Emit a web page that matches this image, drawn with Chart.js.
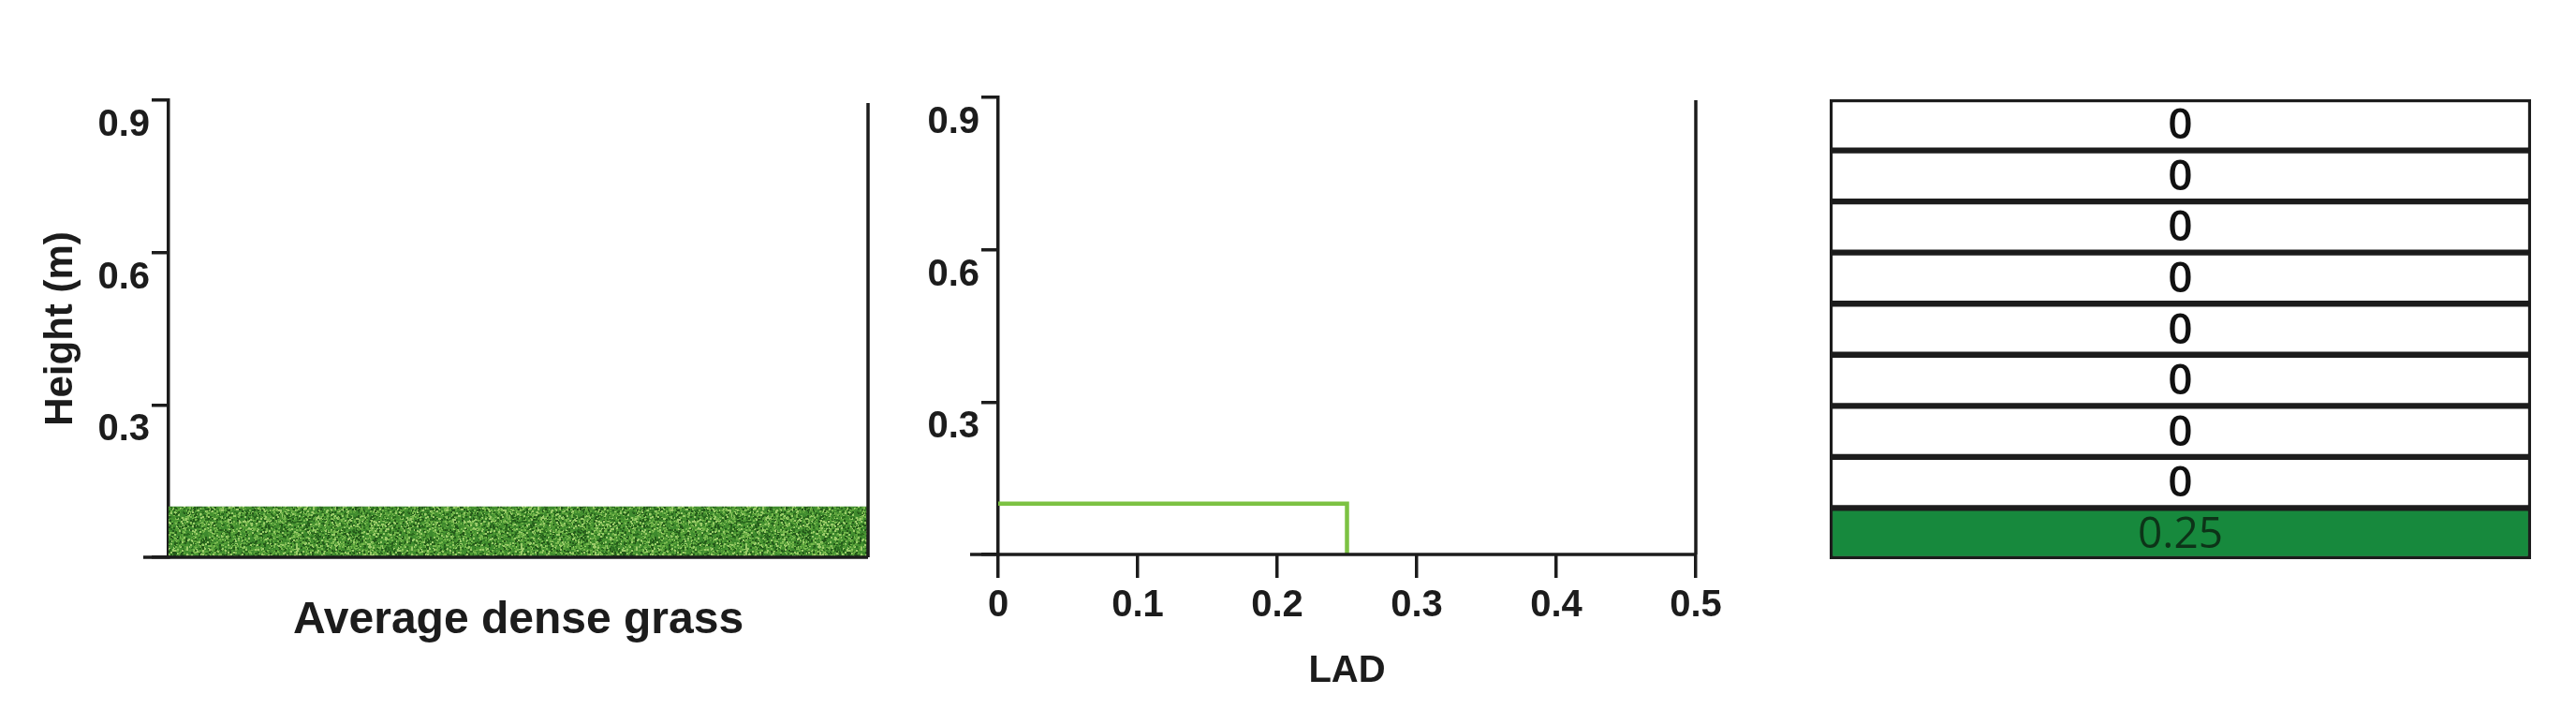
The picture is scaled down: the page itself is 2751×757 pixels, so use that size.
<!DOCTYPE html>
<html>
<head>
<meta charset="utf-8">
<script src="https://cdn.jsdelivr.net/npm/chart.js@4.4.0/dist/chart.umd.min.js"></script>
<style>
  html, body { margin: 0; padding: 0; background: #fff; }
  body { width: 2751px; height: 757px; position: relative; overflow: hidden; }
  .panel { position: absolute; top: 0; height: 757px; }
</style>
</head>
<body>
<div class="panel" style="left:0;width:945px"><canvas id="chart-grass"></canvas></div>
<div class="panel" style="left:950px;width:900px"><canvas id="chart-lad"></canvas></div>
<div class="panel" style="left:1900px;width:851px"><canvas id="chart-table"></canvas></div>
<script>
/* ── Data ─────────────────────────────────────────────────── */
const Y_TICKS      = [0.3, 0.6, 0.9];
const X_TICKS      = [0, 0.1, 0.2, 0.3, 0.4, 0.5];
const GRASS_HEIGHT = 0.1;
const LAD_X        = [0, 0.25, 0.25];
const LAD_Y        = [GRASS_HEIGHT, GRASS_HEIGHT, 0];
const LAYERS       = ['0.85', '0.75', '0.65', '0.55', '0.45', '0.35', '0.25', '0.15', '0.05'];
const LAYER_LAD    = [0, 0, 0, 0, 0, 0, 0, 0, 0.25];

/* ── Styling ──────────────────────────────────────────────── */
const INK  = '#1c1c1c';
const FONT = "'Liberation Sans Narrow', 'Liberation Sans', sans-serif";
Chart.defaults.font.family = FONT;
Chart.defaults.color = INK;
Chart.defaults.animation = false;

/* grass texture (decorative only) */
function grassPattern() {
  const c = document.createElement('canvas');
  c.width = 240; c.height = 60;
  const g = c.getContext('2d');
  g.fillStyle = '#3f8a2e';
  g.fillRect(0, 0, c.width, c.height);
  let s = 12345;
  const rnd = () => (s = (s * 1103515245 + 12345) % 2147483648) / 2147483648;
  const shades = ['#2c6b1f', '#5aa23a', '#78b84e', '#24591a', '#9ccc6a', '#4b9532'];
  for (let i = 0; i < 5000; i++) {
    g.fillStyle = shades[Math.floor(rnd() * shades.length)];
    g.fillRect(Math.floor(rnd() * c.width), Math.floor(rnd() * c.height), 2, 2);
  }
  return g.createPattern(c, 'repeat');
}

/* bottom axis extension + right frame line */
const framePlugin = {
  id: 'frame',
  afterDraw(chart, args, opts) {
    if (!opts.enabled) return;
    const { ctx, chartArea: a } = chart;
    ctx.save();
    ctx.strokeStyle = INK;
    ctx.lineWidth = 3.5;
    ctx.beginPath();
    ctx.moveTo(a.left - opts.ext, a.bottom);
    ctx.lineTo(a.right, a.bottom);
    ctx.moveTo(a.right, a.top + 3);
    ctx.lineTo(a.right, a.bottom);
    ctx.stroke();
    ctx.restore();
  },
};

/* cell value labels for the table */
const cellLabels = {
  id: 'cellLabels',
  afterDatasetsDraw(chart, args, opts) {
    if (!opts.enabled) return;
    const { ctx } = chart;
    const meta = chart.getDatasetMeta(0);
    ctx.save();
    ctx.font = "600 46px 'Open Sans', sans-serif";
    ctx.textAlign = 'center';
    ctx.textBaseline = 'middle';
    meta.data.forEach((bar, i) => {
      const v = LAYER_LAD[i];
      ctx.fillStyle = v > 0 ? '#0d3318' : '#111';
      ctx.font = v > 0 ? "46px 'Open Sans', sans-serif" : "600 46px 'Open Sans', sans-serif";
      ctx.fillText(String(v), chart.chartArea.left + (chart.chartArea.right - chart.chartArea.left) / 2, bar.y + 2);
    });
    ctx.restore();
  },
};
Chart.register(framePlugin, cellLabels);

function yAxis(width) {
  return {
    type: 'linear', min: 0, max: 0.9,
    afterFit: s => { s.width = width; },
    afterBuildTicks: s => { s.ticks = [0, ...Y_TICKS].map(v => ({ value: v })); },
    border: { display: true, color: INK, width: 3.5 },
    grid: { drawOnChartArea: false, drawTicks: true, tickLength: 18, color: INK, lineWidth: 3.5 },
    ticks: {
      font: { size: 40, weight: 'bold' }, color: INK, padding: 2, labelOffset: 27,
      callback: v => (v === 0 ? '' : String(v)),
    },
  };
}

/* ── Panel 1: grass ───────────────────────────────────────── */
new Chart(document.getElementById('chart-grass'), {
  type: 'line',
  data: {
    datasets: [{
      data: [{ x: 0, y: GRASS_HEIGHT }, { x: 1, y: GRASS_HEIGHT }],
      fill: 'origin', backgroundColor: grassPattern(),
      borderWidth: 0, pointRadius: 0,
    }],
  },
  options: {
    responsive: true, maintainAspectRatio: false,
    layout: { padding: { top: 107, right: 18, left: 0, bottom: 0 } },
    plugins: { legend: { display: false }, tooltip: { enabled: false }, frame: { enabled: true, ext: 27 } },
    scales: {
      x: {
        type: 'linear', min: 0, max: 1,
        afterFit: s => { s.height = 162; },
        border: { display: false }, grid: { display: false },
        ticks: { display: false },
        title: { display: true, text: 'Average dense grass', font: { size: 48, weight: 'bold' }, padding: { top: 0, bottom: 65 } },
      },
      y: {
        ...yAxis(180),
        title: { display: true, text: 'Height (m)', font: { size: 42, weight: 'bold' }, padding: { top: 40, bottom: 0 } },
      },
    },
  },
});

/* ── Panel 2: LAD profile ─────────────────────────────────── */
new Chart(document.getElementById('chart-lad'), {
  type: 'line',
  data: {
    datasets: [{
      data: LAD_X.map((x, i) => ({ x, y: LAD_Y[i] })),
      borderColor: '#7cc243', borderWidth: 4.5, pointRadius: 0, fill: false, tension: 0,
    }],
  },
  options: {
    responsive: true, maintainAspectRatio: false,
    layout: { padding: { top: 104, right: 39, left: 0, bottom: 0 } },
    plugins: { legend: { display: false }, tooltip: { enabled: false }, frame: { enabled: true, ext: 30 } },
    scales: {
      x: {
        type: 'linear', min: 0, max: 0.5,
        afterFit: s => { s.height = 165; },
        afterBuildTicks: s => { s.ticks = X_TICKS.map(v => ({ value: v })); },
        border: { display: false },
        grid: { drawOnChartArea: false, drawTicks: true, tickLength: 25, color: INK, lineWidth: 3.5 },
        ticks: { font: { size: 40, weight: 'bold' }, color: INK, padding: 6, maxRotation: 0, callback: v => String(v) },
        title: { display: true, text: 'LAD', font: { size: 40, weight: 'bold' }, padding: { top: 0, bottom: 16 } },
      },
      y: yAxis(116),
    },
  },
});

/* ── Panel 3: LAD table ───────────────────────────────────── */
new Chart(document.getElementById('chart-table'), {
  type: 'bar',
  data: {
    labels: LAYERS,
    datasets: [{
      data: LAYER_LAD.map(() => [0, 1]),
      backgroundColor: LAYER_LAD.map(v => (v > 0 ? '#17893d' : '#ffffff')),
      borderColor: INK, borderWidth: 3.5, borderSkipped: false,
      barPercentage: 1, categoryPercentage: 1,
    }],
  },
  options: {
    indexAxis: 'y',
    responsive: true, maintainAspectRatio: false,
    layout: { padding: { top: 106, right: 48, left: 54, bottom: 160 } },
    plugins: { legend: { display: false }, tooltip: { enabled: false }, cellLabels: { enabled: true } },
    scales: {
      x: { type: 'linear', min: 0, max: 1, display: false },
      y: { type: 'category', display: false },
    },
  },
});
</script>
</body>
</html>
